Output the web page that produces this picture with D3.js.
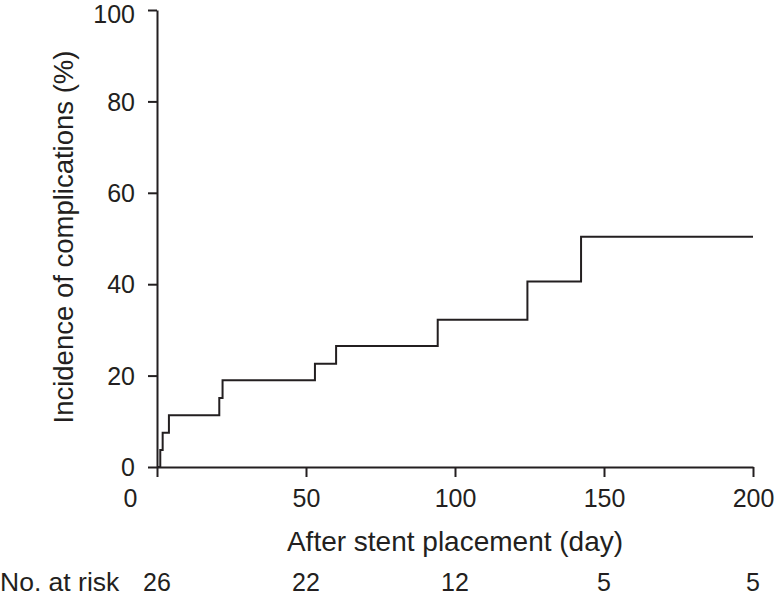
<!DOCTYPE html>
<html>
<head>
<meta charset="utf-8">
<script src="https://cdn.jsdelivr.net/npm/d3@7"></script>
<style>
  body { margin: 0; background: #fff; }
  svg text { font-family: "Liberation Sans", Arial, sans-serif; fill: #231f20; }
</style>
</head>
<body>
<svg id="chart"></svg>
<script>
// cumulative incidence (step curve)
var days = [0, 1.1, 1.9, 4.0, 20.9, 22.0, 53.0, 60.1, 94.2, 124.3, 142.3, 200];
var incidence = [0, 3.7, 7.5, 11.3, 15.1, 19.0, 22.6, 26.5, 32.2, 40.6, 50.4, 50.4];

var xTicks = [0, 50, 100, 150, 200];
var yTicks = [0, 20, 40, 60, 80, 100];

// number at risk row
var riskDays = [0, 50, 100, 150, 200];
var riskCounts = [26, 22, 12, 5, 5];

var width = 776, height = 597;
var ink = "#231f20";

var svg = d3.select("#chart")
  .attr("width", width)
  .attr("height", height);

var x = d3.scaleLinear().domain([0, 200]).range([157, 753]);
var y = d3.scaleLinear().domain([0, 100]).range([467, 10]);

// y axis
var gy = svg.append("g")
  .attr("transform", "translate(157,0)")
  .call(d3.axisLeft(y).tickValues(yTicks).tickSize(9).tickSizeOuter(0).tickPadding(13));

// x axis
var gx = svg.append("g")
  .attr("transform", "translate(0,467)")
  .call(d3.axisBottom(x).tickValues(xTicks).tickSize(10).tickSizeOuter(0).tickPadding(12));

[gx, gy].forEach(function (g) {
  g.selectAll("path, line").attr("stroke", ink).attr("stroke-width", 2);
  g.selectAll("text").style("font-size", "25px").attr("fill", ink);
});
gy.selectAll(".tick text").attr("dy", "0.35em");
// top label sits against the edge: nudge it so it is not clipped
gy.selectAll(".tick text").filter(function (d) { return d === 100; }).attr("dy", "0.5em");
gx.selectAll(".tick text").filter(function (d) { return d === 0; }).attr("dx", -27);

// step line
var line = d3.line()
  .x(function (d, i) { return x(days[i]); })
  .y(function (d) { return y(d); })
  .curve(d3.curveStepAfter);

svg.append("path")
  .datum(incidence)
  .attr("d", line)
  .attr("fill", "none")
  .attr("stroke", ink)
  .attr("stroke-width", 2);

// axis titles
svg.append("text")
  .attr("x", x(100))
  .attr("y", 551)
  .attr("text-anchor", "middle")
  .style("font-size", "28px")
  .text("After stent placement (day)");

svg.append("text")
  .attr("transform", "translate(73,237) rotate(-90)")
  .attr("text-anchor", "middle")
  .style("font-size", "27.5px")
  .text("Incidence of complications (%)");

// number at risk
svg.append("text")
  .attr("x", 0)
  .attr("y", 591)
  .style("font-size", "26.5px")
  .text("No. at risk");

svg.selectAll(".risk")
  .data(riskCounts)
  .enter().append("text")
  .attr("class", "risk")
  .attr("x", function (d, i) { return x(riskDays[i]); })
  .attr("y", 591)
  .attr("text-anchor", "middle")
  .style("font-size", "25px")
  .text(function (d) { return d; });
</script>
</body>
</html>
